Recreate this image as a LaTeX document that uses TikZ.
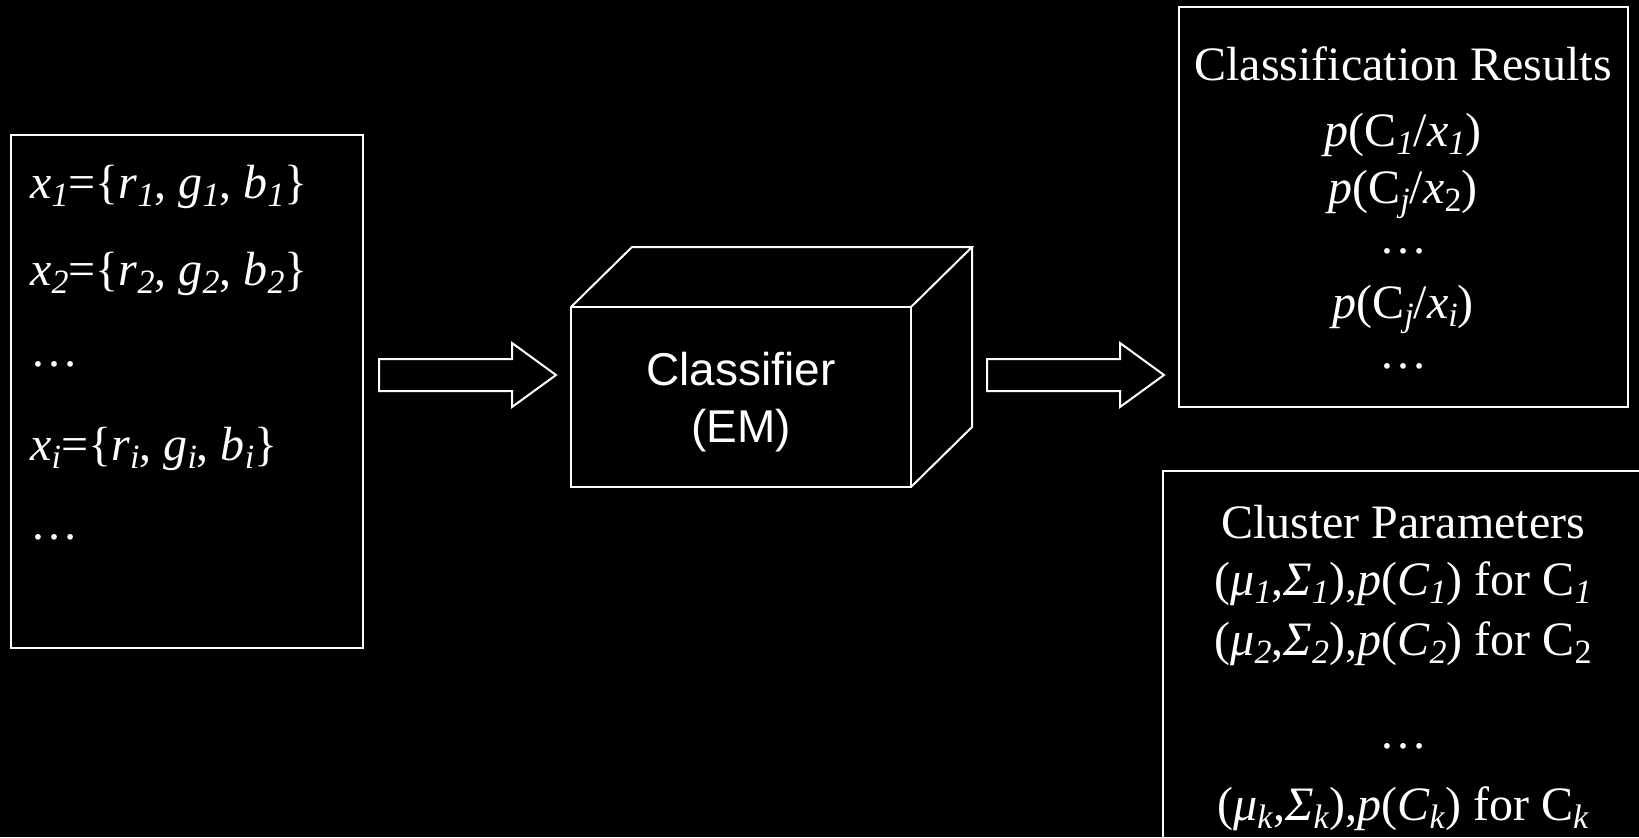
\documentclass[tikz,border=0pt]{standalone}
\usepackage{fontspec}
\setmainfont{Liberation Serif}
\newfontfamily\boxfont{Liberation Sans}
\usetikzlibrary{calc}
\newcommand{\sub}[1]{\raisebox{-0.17em}{\fontsize{17}{17}\selectfont #1}}
\newcommand{\isub}[2]{\textit{#1}\sub{\textit{#2}}}
\newcommand{\rowdots}{\raisebox{0pt}[0.25em][0pt]{…}}
\def\blockarrow(#1)(#2){\draw[wline] ($(#1)+(0,-16)$) -- ($(#2)+(-44,-16)$) -- ($(#2)+(-44,-32)$) -- (#2) -- ($(#2)+(-44,32)$) -- ($(#2)+(-44,16)$) -- ($(#1)+(0,16)$) -- cycle;}
\tikzset{
	wline/.style={draw=white, line width=1pt},
	txt/.style={text=white, inner sep=0pt, font=\fontsize{24}{28}\selectfont}
}

\begin{document}
\begin{tikzpicture}[x=0.5pt, y=-0.5pt]
		%%%%% START %%%%%
		\useasboundingbox (0,0) rectangle (1639,837);
		\fill[black] (0,0) rectangle (1639,837);
		
		% input data
		\draw[wline] (11,135) rectangle (363,648);
		\node[txt, anchor=base west] (x1) at (30,198) {\isub{x}{1}=\{\isub{r}{1}, \isub{g}{1}, \isub{b}{1}\}};
		\node[txt, anchor=base west] (x2) at (30,285) {\isub{x}{2}=\{\isub{r}{2}, \isub{g}{2}, \isub{b}{2}\}};
		\node[txt, anchor=base west] (xd1) at (30,366) {\rowdots};
		\node[txt, anchor=base west] (xi) at (30,460) {\isub{x}{i}=\{\isub{r}{i}, \isub{g}{i}, \isub{b}{i}\}};
		\node[txt, anchor=base west] (xd2) at (30,539) {\rowdots};
		
		\coordinate (a1s) at (379,375);
		\coordinate (a1t) at (556,375);
		\blockarrow(a1s)(a1t)
		
		% classifier cube
		\draw[wline] (571,307) rectangle (911,487);
		\draw[wline] (571,307) -- (632,247) -- (972,247) -- (911,307);
		\draw[wline] (972,247) -- (972,427) -- (911,487);
		\node[txt, font=\boxfont\fontsize{23}{28}\selectfont, anchor=base] (cls) at (741,385) {Classifier};
		\node[txt, font=\boxfont\fontsize{23}{28}\selectfont, anchor=base] (em) at (741,442) {(EM)};
		
		\coordinate (a2s) at (987,375);
		\coordinate (a2t) at (1164,375);
		\blockarrow(a2s)(a2t)
		
		% classification results
		\draw[wline] (1179,7) rectangle (1628,407);
		\node[txt, anchor=base] (res) at (1403,80) {Classification Results};
		\node[txt, anchor=base] (p1) at (1403,146) {\textit{p}(C\sub{\textit{1}}/\isub{x}{1})};
		\node[txt, anchor=base] (p2) at (1403,203) {\textit{p}(C\sub{\textit{j}}/\textit{x}\sub{2})};
		\node[txt, anchor=base] (pd1) at (1403,253) {\rowdots};
		\node[txt, anchor=base] (pi) at (1403,318) {\textit{p}(C\sub{\textit{j}}/\isub{x}{i})};
		\node[txt, anchor=base] (pd2) at (1403,368) {\rowdots};
		
		% cluster parameters
		\draw[wline] (1163,471) rectangle (1645,850);
		\node[txt, anchor=base] (par) at (1403,538) {Cluster Parameters};
		\node[txt, anchor=base] (c1) at (1403,595) {(\isub{μ}{1},\isub{Σ}{1}),\textit{p}(\isub{C}{1}) for C\sub{\textit{1}}};
		\node[txt, anchor=base] (c2) at (1403,655) {(\isub{μ}{2},\isub{Σ}{2}),\textit{p}(\isub{C}{2}) for C\sub{2}};
		\node[txt, anchor=base] (cd) at (1403,748) {\rowdots};
		\node[txt, anchor=base] (ck) at (1403,820) {(\isub{μ}{k},\isub{Σ}{k}),\textit{p}(\isub{C}{k}) for C\sub{\textit{k}}};
		
		%%%%% END %%%%%
	\end{tikzpicture}
\end{document}
